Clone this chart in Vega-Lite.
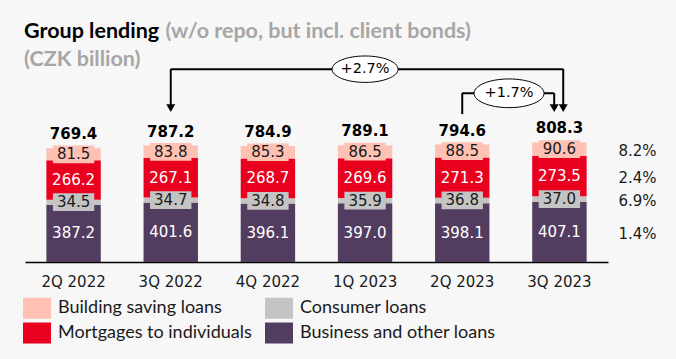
{
  "$schema": "https://vega.github.io/schema/vega-lite/v6.json",
  "width": 583,
  "height": 207,
  "autosize": {"type": "none"},
  "padding": {"left": 25, "top": 55, "right": 68, "bottom": 97},
  "background": "#f7f7f7",
  "config": {"view": {"stroke": null}, "font": "DejaVu Sans"},
  "title": {
    "text": "Group lending",
    "subtitle": "(CZK billion)",
    "anchor": "start",
    "frame": "group",
    "font": "Lato",
    "fontSize": 21.5,
    "fontWeight": "bold",
    "color": "#000000",
    "subtitleFont": "Lato",
    "subtitleFontSize": 21.5,
    "subtitleFontWeight": "bold",
    "subtitleColor": "#a6a6a6",
    "subtitlePadding": 6,
    "offset": -50,
    "dx": -1
  },
  "datasets": {
    "loans": [
      {"q": "2Q 2022", "cat": "Business and other loans", "value": 387.2},
      {"q": "2Q 2022", "cat": "Consumer loans", "value": 34.5},
      {"q": "2Q 2022", "cat": "Mortgages to individuals", "value": 266.2},
      {"q": "2Q 2022", "cat": "Building saving loans", "value": 81.5},
      {"q": "3Q 2022", "cat": "Business and other loans", "value": 401.6},
      {"q": "3Q 2022", "cat": "Consumer loans", "value": 34.7},
      {"q": "3Q 2022", "cat": "Mortgages to individuals", "value": 267.1},
      {"q": "3Q 2022", "cat": "Building saving loans", "value": 83.8},
      {"q": "4Q 2022", "cat": "Business and other loans", "value": 396.1},
      {"q": "4Q 2022", "cat": "Consumer loans", "value": 34.8},
      {"q": "4Q 2022", "cat": "Mortgages to individuals", "value": 268.7},
      {"q": "4Q 2022", "cat": "Building saving loans", "value": 85.3},
      {"q": "1Q 2023", "cat": "Business and other loans", "value": 397.0},
      {"q": "1Q 2023", "cat": "Consumer loans", "value": 35.9},
      {"q": "1Q 2023", "cat": "Mortgages to individuals", "value": 269.6},
      {"q": "1Q 2023", "cat": "Building saving loans", "value": 86.5},
      {"q": "2Q 2023", "cat": "Business and other loans", "value": 398.1},
      {"q": "2Q 2023", "cat": "Consumer loans", "value": 36.8},
      {"q": "2Q 2023", "cat": "Mortgages to individuals", "value": 271.3},
      {"q": "2Q 2023", "cat": "Building saving loans", "value": 88.5},
      {"q": "3Q 2023", "cat": "Business and other loans", "value": 407.1},
      {"q": "3Q 2023", "cat": "Consumer loans", "value": 37.0},
      {"q": "3Q 2023", "cat": "Mortgages to individuals", "value": 273.5},
      {"q": "3Q 2023", "cat": "Building saving loans", "value": 90.6}
    ],
    "totals": [
      {"q": "2Q 2022", "total": 769.4},
      {"q": "3Q 2022", "total": 787.2},
      {"q": "4Q 2022", "total": 784.9},
      {"q": "1Q 2023", "total": 789.1},
      {"q": "2Q 2023", "total": 794.6},
      {"q": "3Q 2023", "total": 808.3}
    ],
    "growth": [
      {"cat": "Building saving loans", "yoy": "8.2%"},
      {"cat": "Mortgages to individuals", "yoy": "2.4%"},
      {"cat": "Consumer loans", "yoy": "6.9%"},
      {"cat": "Business and other loans", "yoy": "1.4%"}
    ]
  },
  "layer": [
    {
      "data": {"name": "loans"},
      "transform": [
        {"calculate": "indexof(['Business and other loans','Consumer loans','Mortgages to individuals','Building saving loans'], datum.cat)", "as": "ord"},
        {"stack": "value", "groupby": ["q"], "sort": [{"field": "ord", "order": "ascending"}], "as": ["y0", "y1"]},
        {"calculate": "(datum.y0 + datum.y1) / 2", "as": "mid"},
        {"calculate": "datum.mid - 60", "as": "lo"},
        {"calculate": "datum.mid + 60", "as": "hi"},
        {"lookup": "cat", "from": {"data": {"name": "growth"}, "key": "cat", "fields": ["yoy"]}}
      ],
      "layer": [
        {
          "mark": {"type": "bar"},
          "encoding": {
            "x": {
              "field": "q", "type": "nominal",
              "scale": {"domain": ["2Q 2022", "3Q 2022", "4Q 2022", "1Q 2023", "2Q 2023", "3Q 2023"], "paddingInner": 0.44, "paddingOuter": 0.22},
              "axis": {"title": null, "labelAngle": 0, "ticks": false, "domainColor": "#000000", "domainWidth": 1.5, "labelFont": "DejaVu Sans", "labelFontSize": 15, "labelColor": "#1a1a1a", "labelPadding": 12, "grid": false}
            },
            "y": {
              "field": "y0", "type": "quantitative", "scale": {"domain": [0, 1400]},
              "axis": {"title": "(w/o repo, but incl. client bonds)", "titleAngle": 0, "titleX": 140, "titleY": -18, "titleAlign": "left", "titleBaseline": "alphabetic", "titleFont": "Lato", "titleFontSize": 21.5, "titleFontWeight": "bold", "titleColor": "#a6a6a6", "domain": false, "ticks": false, "labels": false, "grid": false}
            },
            "y2": {"field": "y1"},
            "color": {
              "field": "cat", "type": "nominal",
              "scale": {"domain": ["Building saving loans", "Mortgages to individuals", "Consumer loans", "Business and other loans"], "range": ["#ffc1b4", "#e8001e", "#c4c4c4", "#523d61"]},
              "legend": {"orient": "none", "legendX": -2, "legendY": 239, "columns": 2, "title": null, "symbolType": "M-1,-0.75H1V0.75H-1Z", "symbolSize": 784, "symbolStrokeWidth": 0, "symbolOpacity": 1, "labelFont": "Lato", "labelFontSize": 18, "labelColor": "#1a1a1a", "labelOffset": 7, "columnPadding": 13, "rowPadding": 0, "padding": 0, "labelLimit": 300}
            }
          }
        },
        {
          "transform": [{"filter": "datum.cat == 'Consumer loans' || datum.cat == 'Building saving loans'"}],
          "mark": {"type": "bar", "width": {"band": 0.76}},
          "encoding": {
            "x": {"field": "q", "type": "nominal"},
            "y": {"field": "lo", "type": "quantitative"},
            "y2": {"field": "hi"},
            "fill": {"condition": {"test": "datum.cat == 'Consumer loans'", "value": "#c4c4c4"}, "value": "#ffc1b4"}
          }
        },
        {
          "mark": {"type": "text", "fontSize": 15, "baseline": "middle", "font": "DejaVu Sans"},
          "encoding": {
            "x": {"field": "q", "type": "nominal"},
            "y": {"field": "mid", "type": "quantitative"},
            "text": {"field": "value", "type": "quantitative", "format": ".1f"},
            "color": {"condition": {"test": "datum.cat == 'Consumer loans' || datum.cat == 'Building saving loans'", "value": "#1a1a1a"}, "value": "#ffffff"}
          }
        },
        {
          "transform": [{"filter": "datum.q == '3Q 2023'"}],
          "mark": {"type": "text", "fontSize": 15, "baseline": "middle", "align": "left", "dx": 59, "dy": 2, "font": "DejaVu Sans", "color": "#1a1a1a"},
          "encoding": {
            "x": {"field": "q", "type": "nominal"},
            "y": {"field": "mid", "type": "quantitative"},
            "text": {"field": "yoy", "type": "nominal"}
          }
        }
      ]
    },
    {
      "data": {"name": "totals"},
      "mark": {"type": "text", "fontSize": 15, "fontWeight": "bold", "baseline": "alphabetic", "dy": -9, "font": "DejaVu Sans", "color": "#000000"},
      "encoding": {
        "x": {"field": "q", "type": "nominal"},
        "y": {"field": "total", "type": "quantitative"},
        "text": {"field": "total", "type": "quantitative", "format": ".1f"}
      }
    },
    {
      "data": {"values": [{}]},
      "layer": [
        {
          "mark": {"type": "rule", "strokeWidth": 2, "color": "#000000"},
          "encoding": {
            "x": {"datum": "3Q 2022"},
            "x2": {"datum": "3Q 2023", "bandPosition": 0.57},
            "y": {"datum": 1304}
          }
        },
        {
          "mark": {"type": "rule", "strokeWidth": 2, "color": "#000000"},
          "encoding": {"x": {"datum": "3Q 2022"}, "y": {"datum": 1305}, "y2": {"datum": 1045}}
        },
        {
          "mark": {"type": "rule", "strokeWidth": 2, "color": "#000000"},
          "encoding": {"x": {"datum": "3Q 2023", "bandPosition": 0.57}, "y": {"datum": 1305}, "y2": {"datum": 1045}}
        },
        {
          "mark": {"type": "rule", "strokeWidth": 2, "color": "#000000"},
          "encoding": {
            "x": {"datum": "2Q 2023"},
            "x2": {"datum": "3Q 2023", "bandPosition": 0.404},
            "y": {"datum": 1141}
          }
        },
        {
          "mark": {"type": "rule", "strokeWidth": 2, "color": "#000000"},
          "encoding": {"x": {"datum": "2Q 2023"}, "y": {"datum": 1142}, "y2": {"datum": 1000}}
        },
        {
          "mark": {"type": "rule", "strokeWidth": 2, "color": "#000000"},
          "encoding": {"x": {"datum": "3Q 2023", "bandPosition": 0.404}, "y": {"datum": 1142}, "y2": {"datum": 1045}}
        },
        {
          "mark": {"type": "point", "shape": "triangle-down", "filled": true, "size": 80, "color": "#000000", "opacity": 1},
          "encoding": {"x": {"datum": "3Q 2022"}, "y": {"datum": 1040}}
        },
        {
          "mark": {"type": "point", "shape": "triangle-down", "filled": true, "size": 80, "color": "#000000", "opacity": 1},
          "encoding": {"x": {"datum": "3Q 2023", "bandPosition": 0.57}, "y": {"datum": 1040}}
        },
        {
          "mark": {"type": "point", "shape": "triangle-down", "filled": true, "size": 80, "color": "#000000", "opacity": 1},
          "encoding": {"x": {"datum": "3Q 2023", "bandPosition": 0.404}, "y": {"datum": 1040}}
        },
        {
          "mark": {"type": "point", "shape": "M-1,0A1,0.4,0,1,0,1,0A1,0.4,0,1,0,-1,0Z", "filled": true, "size": 4356, "fill": "#ffffff", "stroke": "#000000", "strokeWidth": 1, "opacity": 1},
          "encoding": {"x": {"datum": "1Q 2023"}, "y": {"datum": 1304}}
        },
        {
          "mark": {"type": "text", "fontSize": 14.5, "font": "DejaVu Sans", "baseline": "middle", "color": "#000000", "text": "+2.7%"},
          "encoding": {"x": {"datum": "1Q 2023"}, "y": {"datum": 1304}}
        },
        {
          "mark": {"type": "point", "shape": "M-1,0A1,0.41,0,1,0,1,0A1,0.41,0,1,0,-1,0Z", "filled": true, "size": 4900, "fill": "#ffffff", "stroke": "#000000", "strokeWidth": 1, "opacity": 1},
          "encoding": {"x": {"datum": "2Q 2023", "bandPosition": 1.36}, "y": {"datum": 1141}}
        },
        {
          "mark": {"type": "text", "fontSize": 14.5, "font": "DejaVu Sans", "baseline": "middle", "color": "#000000", "text": "+1.7%"},
          "encoding": {"x": {"datum": "2Q 2023", "bandPosition": 1.36}, "y": {"datum": 1141}}
        }
      ]
    }
  ]
}
